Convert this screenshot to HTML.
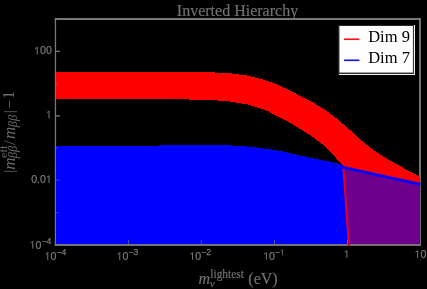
<!DOCTYPE html>
<html><head><meta charset="utf-8">
<style>
html,body{margin:0;padding:0;background:#000;}
body{width:427px;height:289px;overflow:hidden;position:relative;}
svg{position:absolute;left:0;top:0;}
text{font-family:"Liberation Sans",sans-serif;}
.tk{font-family:"Liberation Sans",sans-serif;font-size:10.6px;fill:#787878;stroke:#787878;stroke-width:0.25;}
.sup{font-size:8.6px;}
.h{fill:none;stroke:none;}
.one{fill:#787878;stroke:#787878;stroke-width:24;}
.ser{font-family:"Liberation Serif",serif;fill:#727272;stroke:#727272;stroke-width:0.18;}
.yl text{fill:#6c6c6c;stroke:none;}
.leg{font-family:"Liberation Serif",serif;fill:#000;}
</style></head><body>
<svg width="427" height="289" viewBox="0 0 427 289" style="opacity:0.999;will-change:transform">
<rect x="0" y="0" width="427" height="289" fill="#000"/>
<!-- frame -->
<g fill="#787878">
<rect x="54.8" y="17.95" width="366.1" height="2.05"/>
<rect x="54.8" y="243.95" width="366.1" height="2"/>
<rect x="54.8" y="17.95" width="1.3" height="228"/>
<rect x="418.95" y="17.95" width="1.95" height="228"/>
</g>
<g shape-rendering="crispEdges">
<!-- red region -->
<polygon fill="#ff0000" points="56,72 205,72 215,72.5 231.8,73.5 238.8,74.5 247,75.5 250.8,76.5 254.6,77.5 259,78.5 262.5,79.5 275,83.6 287.5,89.4 300,95.8 312.5,102.3 325,109.7 337.5,119.2 350,130 355,134.8 360,139.3 365,143.5 370,147.5 375,151 380,154.3 385,157.5 390,160.5 400,166 410,171.6 420.4,177 420.4,244 348.8,244 343.3,166 342,165 335,156.8 325,146.3 312.5,136.7 300,128.9 287.5,121.4 275,115 268.5,111.5 266,110.5 263.5,109.5 260.3,108.5 257.1,107.5 254,106.5 250.8,105.5 247.6,104.5 242,103.5 236.3,102.5 229.9,101.5 217.9,100.5 189,100.3 189,99.3 56,99.3"/>
<!-- blue region -->
<polygon fill="#0000ff" points="56,145.75 159,145.75 159,144.6 224,144.6 232,145.5 247,146.5 257,147.5 264,148.5 275,150 287.5,152.5 300,155.5 312.5,158.25 325,160.75 337.5,163.25 342,165 343.5,166 348.8,244 56,244"/>
<!-- purple region -->
<polygon fill="#70008f" points="343.3,167.3 420.4,184.3 420.4,244 348.8,244"/>
</g>
<line x1="343.3" y1="166" x2="348.95" y2="246" stroke="#e0002a" stroke-width="2"/>
<line x1="342" y1="167.1" x2="420.4" y2="184.3" stroke="#0000ff" stroke-width="2.8"/>
<!-- ticks -->
<g stroke="#7c7c7c" stroke-width="1.3">
<line x1="56" y1="51.4" x2="60" y2="51.4"/>
<line x1="56" y1="115.9" x2="60" y2="115.9"/>
</g>
<g stroke="#808080" stroke-width="1.3" stroke-opacity="0.42">
<line x1="56" y1="180.2" x2="59.5" y2="180.2"/>
<line x1="56" y1="83.6" x2="58.2" y2="83.6"/>
<line x1="56" y1="148.1" x2="58.2" y2="148.1"/>
<line x1="56" y1="212.7" x2="58.2" y2="212.7"/>
<line x1="128.45" y1="244" x2="128.45" y2="239.9" stroke-opacity="0.62" stroke-width="1.1"/>
<line x1="201.45" y1="244" x2="201.45" y2="239.9" stroke-opacity="0.62" stroke-width="1.1"/>
<line x1="274.45" y1="244" x2="274.45" y2="239.9" stroke-opacity="0.62" stroke-width="1.1"/>
<line x1="347.45" y1="244" x2="347.45" y2="239.9" stroke-opacity="0.62" stroke-width="1.1"/>
</g>
<!-- y tick labels -->
<text class="tk" x="51.8" y="54.4" text-anchor="end"><tspan class="h">1</tspan>00</text>
<text class="tk" x="51.8" y="118.3" text-anchor="end"><tspan class="h">1</tspan></text>
<text class="tk" x="51.8" y="182.9" text-anchor="end">0.0<tspan class="h">1</tspan></text>
<text class="tk" x="29.6" y="248.5"><tspan class="h">1</tspan>0<tspan class="sup" dy="-4.3">−4</tspan></text>
<!-- x tick labels -->
<text class="tk" x="44.6" y="259.7"><tspan class="h">1</tspan>0<tspan class="sup" dy="-4.3">−4</tspan></text>
<text class="tk" x="116.6" y="259.7"><tspan class="h">1</tspan>0<tspan class="sup" dy="-4.3">−3</tspan></text>
<text class="tk" x="189.4" y="259.7"><tspan class="h">1</tspan>0<tspan class="sup" dy="-4.3">−2</tspan></text>
<text class="tk" x="263.2" y="259.7"><tspan class="h">1</tspan>0<tspan class="sup" dy="-4.3">−<tspan class="h">1</tspan></tspan></text>
<text class="tk" x="349.6" y="257.8" text-anchor="end"><tspan class="h">1</tspan></text>
<text class="tk" x="420.4" y="257.8" text-anchor="middle"><tspan class="h">1</tspan>0</text>
<g>
<path class="one" d="M515,0 V1237 L197,1010 V1180 L530,1409 H696 V0 Z" transform="translate(34.10,54.40) scale(0.005176,-0.005176)"/>
<path class="one" d="M515,0 V1237 L197,1010 V1180 L530,1409 H696 V0 Z" transform="translate(45.89,118.30) scale(0.005176,-0.005176)"/>
<path class="one" d="M515,0 V1237 L197,1010 V1180 L530,1409 H696 V0 Z" transform="translate(45.89,182.90) scale(0.005176,-0.005176)"/>
<path class="one" d="M515,0 V1237 L197,1010 V1180 L530,1409 H696 V0 Z" transform="translate(29.60,248.50) scale(0.005176,-0.005176)"/>
<path class="one" d="M515,0 V1237 L197,1010 V1180 L530,1409 H696 V0 Z" transform="translate(44.60,259.70) scale(0.005176,-0.005176)"/>
<path class="one" d="M515,0 V1237 L197,1010 V1180 L530,1409 H696 V0 Z" transform="translate(116.60,259.70) scale(0.005176,-0.005176)"/>
<path class="one" d="M515,0 V1237 L197,1010 V1180 L530,1409 H696 V0 Z" transform="translate(189.40,259.70) scale(0.005176,-0.005176)"/>
<path class="one" d="M515,0 V1237 L197,1010 V1180 L530,1409 H696 V0 Z" transform="translate(263.20,259.70) scale(0.005176,-0.005176)"/>
<path class="one" d="M515,0 V1237 L197,1010 V1180 L530,1409 H696 V0 Z" transform="translate(280.04,255.40) scale(0.004199,-0.004199)"/>
<path class="one" d="M515,0 V1237 L197,1010 V1180 L530,1409 H696 V0 Z" transform="translate(343.69,257.80) scale(0.005176,-0.005176)"/>
<path class="one" d="M515,0 V1237 L197,1010 V1180 L530,1409 H696 V0 Z" transform="translate(414.49,257.80) scale(0.005176,-0.005176)"/>
</g>
<!-- title -->
<text class="ser" x="237.5" y="15.7" font-size="16" text-anchor="middle">Inverted Hierarchy</text>
<!-- x label -->
<text class="ser" x="198.4" y="284" font-size="16"><tspan font-style="italic">m</tspan></text>
<text class="ser" transform="translate(210.3,278.3) scale(1,1.12)" x="0" y="0" font-size="11.4">lightest</text>
<text class="ser" x="209.8" y="287.3" font-size="11.4" font-style="italic">ν</text>
<text class="ser" x="248.3" y="284" font-size="16">(eV)</text>
<!-- y label -->
<g transform="translate(14.6,171.5) rotate(-90)" style="fill:#6c6c6c;stroke:none" class="yl">
<text class="ser" x="-1.3" y="-0.9" font-size="15">|</text>
<text class="ser" x="1.8" y="0" font-size="17" font-style="italic">m</text>
<text class="ser" x="13.6" y="-7.8" font-size="11.4">eff</text>
<text class="ser" x="13.2" y="2.4" font-size="12.5" font-style="italic">ββ</text>
<text class="ser" x="26.6" y="0.6" font-size="17.5">/</text>
<text class="ser" x="32.6" y="0" font-size="17" font-style="italic">m</text>
<text class="ser" x="44.2" y="2.4" font-size="12.5" font-style="italic">ββ</text>
<text class="ser" x="58.3" y="-0.9" font-size="15">|</text>
<text class="ser" x="62.6" y="0" font-size="16">−</text>
<text class="ser" x="72.6" y="-0.8" font-size="16">1</text>
</g>
<!-- legend -->
<g shape-rendering="crispEdges">
<rect x="339" y="73.8" width="76.2" height="1.3" fill="#f4f4f4"/>
<rect x="414" y="24.7" width="1.2" height="50.4" fill="#f4f4f4"/>
<rect x="413" y="26" width="1" height="47.7" fill="#3a3a3a"/>
<rect x="338.4" y="25" width="75.6" height="1" fill="#2c2c2c"/>
<rect x="338.4" y="25" width="1" height="48.7" fill="#2c2c2c"/>
<rect x="338.4" y="72.7" width="75.6" height="1" fill="#2c2c2c"/>
</g>
<rect x="339.4" y="26" width="73.5" height="46.65" fill="#fff"/>
<line x1="344" y1="39.25" x2="359.4" y2="39.25" stroke="#ff1010" stroke-width="1.6"/>
<line x1="344" y1="60.3" x2="359.4" y2="60.3" stroke="#1010ff" stroke-width="1.6"/>
<text class="leg" x="368.2" y="42.1" font-size="16.5">Dim 9</text>
<text class="leg" x="368.2" y="63.1" font-size="16.5">Dim 7</text>
</svg>
</body></html>
